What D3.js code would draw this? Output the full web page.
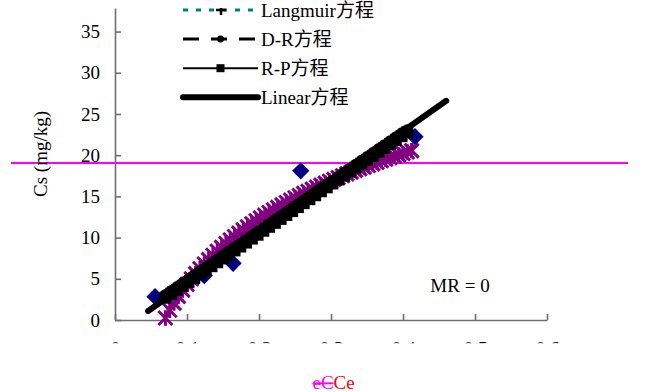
<!DOCTYPE html>
<html>
<head>
<meta charset="utf-8">
<script src="https://cdn.jsdelivr.net/npm/d3@7.9.0/dist/d3.min.js"></script>
<style>
  body { margin: 0; background: #fff; }
  svg { display: block; font-family: "Liberation Serif", "Times New Roman", "Noto Sans CJK SC", serif; }
</style>
</head>
<body>
<div id="chart"></div>
<script>
// ticks
const xTicks = [0, 0.1, 0.2, 0.3, 0.4, 0.5, 0.6];
const yTicks = [0, 5, 10, 15, 20, 25, 30, 35];

// observed points (navy diamonds)
const obsX = [0.0556, 0.124, 0.164, 0.258, 0.4167];
const obsY = [2.83, 5.4, 6.88, 18.1, 22.25];

// purple star series
const starX = [0.070, 0.076, 0.082, 0.088, 0.094, 0.100, 0.106, 0.112, 0.118, 0.124,
  0.130, 0.136, 0.142, 0.148, 0.154, 0.160, 0.166, 0.172, 0.178, 0.184,
  0.190, 0.196, 0.202, 0.208, 0.214, 0.220, 0.226, 0.232, 0.238, 0.244,
  0.250, 0.256, 0.262, 0.268, 0.274, 0.280, 0.286, 0.292, 0.298, 0.304,
  0.310, 0.316, 0.322, 0.328, 0.334, 0.340, 0.346, 0.352, 0.358, 0.364,
  0.370, 0.376, 0.382, 0.388, 0.394, 0.400, 0.406, 0.412];
const starY = [0.24, 1.18, 2.05, 2.86, 3.62, 4.33, 4.99, 5.63, 6.22, 6.79,
  7.33, 7.85, 8.35, 8.82, 9.28, 9.71, 10.14, 10.54, 10.94, 11.32,
  11.68, 12.04, 12.39, 12.72, 13.05, 13.36, 13.67, 13.97, 14.26, 14.55,
  14.83, 15.10, 15.37, 15.63, 15.88, 16.13, 16.37, 16.61, 16.84, 17.07,
  17.29, 17.51, 17.73, 17.94, 18.15, 18.35, 18.55, 18.75, 18.94, 19.13,
  19.32, 19.51, 19.69, 19.87, 20.04, 20.21, 20.39, 20.55];

// R-P and D-R fits (black band)
const fitX = [0.070, 0.078, 0.086, 0.094, 0.102, 0.110, 0.118, 0.126, 0.134, 0.142,
  0.150, 0.158, 0.166, 0.174, 0.182, 0.190, 0.198, 0.206, 0.214, 0.222,
  0.230, 0.238, 0.246, 0.254, 0.262, 0.270, 0.278, 0.286, 0.294, 0.302,
  0.310, 0.318, 0.326, 0.334, 0.342, 0.350, 0.358, 0.366, 0.374, 0.382,
  0.390, 0.398, 0.406];
const rpY = [2.70, 3.18, 3.66, 4.14, 4.61, 5.09, 5.57, 6.05, 6.53, 7.01,
  7.48, 7.96, 8.44, 8.92, 9.40, 9.88, 10.35, 10.83, 11.31, 11.79,
  12.27, 12.75, 13.22, 13.70, 14.18, 14.66, 15.14, 15.62, 16.10, 16.57,
  17.05, 17.53, 18.01, 18.49, 18.97, 19.44, 19.92, 20.40, 20.88, 21.36,
  21.84, 22.31, 22.79];
const drY = [3.10, 3.58, 4.06, 4.54, 5.01, 5.49, 5.97, 6.45, 6.93, 7.41,
  7.88, 8.36, 8.84, 9.32, 9.80, 10.28, 10.75, 11.23, 11.71, 12.19,
  12.67, 13.15, 13.62, 14.10, 14.58, 15.06, 15.54, 16.02, 16.50, 16.97,
  17.45, 17.93, 18.41, 18.89, 19.37, 19.84, 20.32, 20.80, 21.28, 21.76,
  22.24, 22.71, 23.10];

// linear fit end points
const linX = [0.046, 0.46];
const linY = [1.1, 26.6];

// magenta rule
const ruleX = [-0.1445, 0.7125];
const ruleY = 19.05;

const legendNames = ['Langmuir方程', 'D-R方程', 'R-P方程', 'Linear方程'];

const width = 645;
const height = 392;
const font = 19;

const svg = d3.select('#chart').append('svg')
  .attr('width', width)
  .attr('height', height);

const xScale = d3.scaleLinear().domain([0, 0.6]).range([115, 547]);
const yScale = d3.scaleLinear().domain([0, 37.86]).range([320, 8]);

const defs = svg.append('defs');
defs.append('clipPath').attr('id', 'xlab-clip')
  .append('rect').attr('x', 0).attr('y', 342).attr('width', width).attr('height', 1.3);

// axes
const axisColor = '#6e6e6e';
const yAxis = svg.append('g')
  .attr('transform', `translate(${xScale(0)},0)`)
  .call(d3.axisLeft(yScale).tickValues(yTicks).tickSizeInner(-6).tickSizeOuter(0).tickPadding(15));
const xAxis = svg.append('g')
  .attr('transform', `translate(0,${yScale(0)})`)
  .call(d3.axisBottom(xScale).tickValues(xTicks).tickSizeInner(-6).tickSizeOuter(0).tickFormat(''));
[yAxis, xAxis].forEach(g => {
  g.attr('font-family', null).attr('font-size', font);
  g.select('.domain').attr('stroke', axisColor).attr('stroke-width', 1.6);
  g.selectAll('.tick line').attr('stroke', axisColor).attr('stroke-width', 1.6);
});
yAxis.selectAll('.tick text').attr('fill', '#000').attr('dy', '0.32em');

// x tick labels, only their top edge shows
const xLab = svg.append('g').attr('clip-path', 'url(#xlab-clip)')
  .append('g')
  .attr('transform', `translate(0,${yScale(0)})`)
  .call(d3.axisBottom(xScale).tickValues(xTicks).tickSize(0).tickPadding(21.3)
    .tickFormat(d => d === 0 ? '0' : d.toFixed(1)));
xLab.attr('font-family', null).attr('font-size', font);
xLab.select('.domain').remove();
xLab.selectAll('.tick text').attr('fill', '#000');

// magenta rule
svg.append('line')
  .attr('x1', xScale(ruleX[0])).attr('x2', xScale(ruleX[1]))
  .attr('y1', yScale(ruleY)).attr('y2', yScale(ruleY))
  .attr('stroke', '#ff00ff').attr('stroke-width', 2);

// star marker path
function starPath(r) {
  return `M${-r},${-r}L${r},${r}M${-r},${r}L${r},${-r}M0,${-r * 1.1}L0,${r * 1.1}`;
}

const plot = svg.append('g');

// purple stars
plot.append('g').selectAll('path')
  .data(d3.zip(starX, starY))
  .join('path')
  .attr('transform', d => `translate(${xScale(d[0])},${yScale(d[1])})`)
  .attr('d', starPath(7))
  .attr('fill', 'none')
  .attr('stroke', '#800080')
  .attr('stroke-width', 3);

// observed diamonds
plot.append('g').selectAll('path')
  .data(d3.zip(obsX, obsY))
  .join('path')
  .attr('transform', d => `translate(${xScale(d[0])},${yScale(d[1])})`)
  .attr('d', d3.symbol(d3.symbolDiamond2, 190))
  .attr('fill', '#000080');

const line = d3.line().x(d => xScale(d[0])).y(d => yScale(d[1]));

// D-R: dashed line with circles
plot.append('path').datum(d3.zip(fitX, drY))
  .attr('d', line).attr('fill', 'none').attr('stroke', '#000')
  .attr('stroke-width', 3).attr('stroke-dasharray', '16,10');
plot.append('g').selectAll('circle')
  .data(d3.zip(fitX, drY))
  .join('circle')
  .attr('cx', d => xScale(d[0])).attr('cy', d => yScale(d[1]))
  .attr('r', 5.5).attr('fill', '#000');

// R-P: solid line with squares
plot.append('path').datum(d3.zip(fitX, rpY))
  .attr('d', line).attr('fill', 'none').attr('stroke', '#000').attr('stroke-width', 2);
plot.append('g').selectAll('rect')
  .data(d3.zip(fitX, rpY))
  .join('rect')
  .attr('x', d => xScale(d[0]) - 6).attr('y', d => yScale(d[1]) - 6)
  .attr('width', 12).attr('height', 12).attr('fill', '#000');

// linear
plot.append('path').datum(d3.zip(linX, linY))
  .attr('d', line).attr('fill', 'none').attr('stroke', '#000')
  .attr('stroke-width', 6).attr('stroke-linecap', 'round');

// legend
const legend = svg.append('g');
const legX0 = 183, legX1 = 258, legY0 = 10, legStep = 29.1;
const items = legend.selectAll('g')
  .data(legendNames)
  .join('g')
  .attr('transform', (d, i) => `translate(0,${legY0 + i * legStep})`);

items.each(function (d, i) {
  const g = d3.select(this);
  if (i === 0) {
    g.append('line').attr('x1', legX0).attr('x2', legX1).attr('y1', 0).attr('y2', 0)
      .attr('stroke', '#008080').attr('stroke-width', 3).attr('stroke-dasharray', '5,8');
    g.append('path').attr('transform', `translate(${(legX0 + legX1) / 2 + 0.5},0)`)
      .attr('d', 'M-5,0H5M0,-2V5').attr('stroke', '#000').attr('stroke-width', 2.5);
  } else if (i === 1) {
    g.append('line').attr('x1', legX0).attr('x2', legX1).attr('y1', 0).attr('y2', 0)
      .attr('stroke', '#000').attr('stroke-width', 3).attr('stroke-dasharray', '16,12');
    g.append('circle').attr('cx', (legX0 + legX1) / 2).attr('cy', 0).attr('r', 3.5).attr('fill', '#000');
  } else if (i === 2) {
    g.append('line').attr('x1', legX0).attr('x2', legX1).attr('y1', 0).attr('y2', 0)
      .attr('stroke', '#000').attr('stroke-width', 2);
    g.append('rect').attr('x', (legX0 + legX1) / 2 - 4).attr('y', -4)
      .attr('width', 8).attr('height', 8).attr('fill', '#000');
  } else {
    g.append('line').attr('x1', legX0).attr('x2', legX1).attr('y1', 0).attr('y2', 0)
      .attr('stroke', '#000').attr('stroke-width', 6).attr('stroke-linecap', 'round');
  }
});
items.append('text')
  .attr('x', 261).attr('y', 6.8)
  .attr('font-size', font)
  .text(d => d);

// MR annotation
svg.append('text')
  .attr('x', xScale(0.438)).attr('y', yScale(3.4))
  .attr('font-size', font)
  .text('MR = 0');

// axis titles
svg.append('text')
  .attr('transform', `translate(47,154) rotate(-90)`)
  .attr('text-anchor', 'middle')
  .attr('font-size', font)
  .text('Cs (mg/kg)');

const xTitle = svg.append('text')
  .attr('x', 312.5).attr('y', 389)
  .attr('font-size', font);
xTitle.append('tspan').attr('fill', '#ff00ff')
  .style('text-decoration', 'line-through').text('eC');
xTitle.append('tspan').attr('fill', '#ff0000').text('Ce');
</script>
</body>
</html>
